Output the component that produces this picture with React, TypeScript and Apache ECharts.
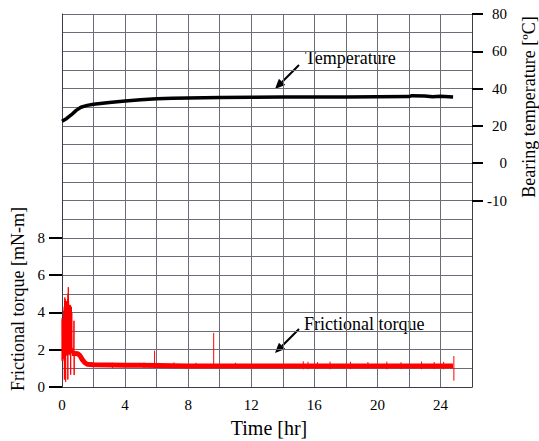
import React, { useEffect, useRef } from "react";
import * as echarts from "echarts";

// ---- Data ----
const timeTicks = [0, 4, 8, 12, 16, 20, 24];
const torqueTicks = [0, 2, 4, 6, 8];
const tempTickValues = [80, 60, 40, 20, 0, -20];
const tempTickLabels = ["80", "60", "40", "20", "0", "-10"];

// Bearing temperature [°C]
const tempTime = [0, 0.3, 0.6, 0.9, 1.2, 1.6, 2, 3, 4, 5, 6, 7, 8, 10, 12, 14, 16, 18, 20, 22, 22.2, 23, 23.5, 24, 24.8];
const tempValue = [22.5, 24, 26, 28.3, 30, 31, 31.6, 32.6, 33.4, 34, 34.6, 34.8, 35, 35.2, 35.4, 35.5, 35.5, 35.5, 35.6, 35.7, 36.2, 36.0, 35.6, 35.9, 35.5];

// Frictional torque start-up burst [mN-m]
const burstTime = [
  0.0, 0.01, 0.02, 0.03, 0.04, 0.05, 0.06, 0.07, 0.08, 0.09, 0.1, 0.11, 0.12, 0.13, 0.14, 0.15, 0.16, 0.17, 0.18, 0.19,
  0.2, 0.21, 0.22, 0.23, 0.24, 0.25, 0.26, 0.27, 0.28, 0.29, 0.3, 0.31, 0.32, 0.33, 0.34, 0.35, 0.36, 0.37, 0.38, 0.39,
  0.4, 0.41, 0.42, 0.43, 0.44, 0.45, 0.46, 0.47, 0.48, 0.49, 0.5, 0.51, 0.52, 0.53, 0.54, 0.55, 0.56, 0.57, 0.58, 0.59,
  0.6, 0.61, 0.62, 0.63, 0.64, 0.66, 0.68, 0.7, 0.72, 0.74, 0.76, 0.77, 0.78, 0.8, 0.83, 0.86, 0.9,
];
const burstTorque = [
  3.7, 1.4, 3.6, 1.5, 3.4, 1.4, 3.3, 1.5, 3.5, 1.5, 3.9, 1.6, 4.1, 1.5, 4.3, 0.4, 4.6, 1.6, 4.8, 1.7,
  4.5, 1.6, 4.7, 0.28, 4.6, 1.7, 4.5, 1.8, 4.6, 1.7, 4.4, 1.8, 4.5, 1.7, 4.6, 1.8, 4.7, 0.4, 5.0, 1.8,
  5.35, 1.8, 4.6, 1.8, 4.4, 1.7, 4.3, 1.9, 4.4, 1.8, 4.3, 1.8, 4.4, 1.9, 4.3, 0.66, 4.3, 1.9, 4.2, 1.8,
  4.3, 1.9, 4.0, 1.9, 2.1, 1.8, 2.0, 1.7, 1.9, 1.8, 3.55, 0.64, 1.9, 1.7, 1.9, 1.7, 1.8,
];

// Frictional torque running level (thick noisy band) [mN-m]
const bandTime = [0.62, 0.8, 1.0, 1.1, 1.2, 1.3, 1.45, 1.6, 1.8, 2, 3, 4, 5, 6, 7, 8, 10, 12, 14, 16, 18, 20, 22, 24, 24.8];
const bandTorque = [1.8, 1.8, 1.78, 1.72, 1.6, 1.45, 1.3, 1.22, 1.2, 1.19, 1.18, 1.17, 1.16, 1.15, 1.14, 1.13, 1.12, 1.12, 1.12, 1.13, 1.13, 1.13, 1.13, 1.13, 1.12];

// Isolated torque spikes [mN-m]
const spikeTime = [3.2, 5.2, 5.87, 7.1, 8.5, 9.62, 11.0, 15.3, 15.6, 16.2, 17.0, 18.3, 19.4, 20.6, 21.5, 22.8, 23.6, 24.2, 24.85];
const spikeLow = [1.0, 1.0, 1.1, 1.0, 1.0, 1.1, 1.0, 0.95, 0.95, 0.97, 0.95, 0.96, 0.97, 0.95, 0.96, 0.95, 0.96, 0.95, 0.34];
const spikeHigh = [1.3, 1.3, 1.95, 1.32, 1.3, 2.9, 1.3, 1.38, 1.35, 1.33, 1.36, 1.35, 1.34, 1.36, 1.33, 1.36, 1.34, 1.35, 1.66];

const FONT = "'Liberation Serif', 'Times New Roman', serif";
const GRID_COLOR = "#6c6c78";
const AXIS_COLOR = "#3c3c46";

function arrow(x0: number, y0: number, x1: number, y1: number) {
  const dx = x1 - x0;
  const dy = y1 - y0;
  const len = Math.sqrt(dx * dx + dy * dy);
  const ux = dx / len;
  const uy = dy / len;
  const hl = 10;
  const hw = 4.5;
  const bx = x1 - ux * hl;
  const by = y1 - uy * hl;
  return [
    { type: "line", shape: { x1: x0, y1: y0, x2: bx, y2: by }, style: { stroke: "#000", lineWidth: 2 } },
    {
      type: "polygon",
      shape: { points: [[x1, y1], [bx - uy * hw, by + ux * hw], [bx + uy * hw, by - ux * hw]] },
      style: { fill: "#000" },
    },
  ];
}

export default function App() {
  const ref = useRef<HTMLDivElement>(null);
  useEffect(() => {
    document.body.style.margin = "0";
    if (!ref.current) return;
    const chart = echarts.init(ref.current, null, { renderer: "svg" });

    const tempData = tempTime.map((t, i) => [t, tempValue[i]]);
    const burstData = burstTime.map((t, i) => [t, burstTorque[i]]);
    const bandData = bandTime.map((t, i) => [t, bandTorque[i]]);
    const spikeData: any[] = [];
    spikeTime.forEach((t, i) => {
      spikeData.push([t, spikeLow[i]], [t, spikeHigh[i]], [t, "-"]);
    });

    chart.setOption({
      animation: false,
      backgroundColor: "#fff",
      textStyle: { fontFamily: FONT },
      grid: { left: 62, right: 67, top: 14, bottom: 54, containLabel: false },
      xAxis: {
        type: "value",
        min: 0,
        max: 26,
        interval: 2,
        axisLine: { show: true, lineStyle: { color: AXIS_COLOR, width: 1 } },
        axisTick: { show: false },
        axisLabel: {
          color: "#000",
          fontSize: 15,
          fontFamily: FONT,
          margin: 10,
          formatter: (v: number) => (timeTicks.indexOf(v) >= 0 ? String(v) : ""),
        },
        splitLine: { show: true, lineStyle: { color: GRID_COLOR, width: 1 } },
      },
      yAxis: [
        {
          // torque axis: grid lines every 1 mN-m
          type: "value",
          position: "left",
          min: 0,
          max: 20,
          interval: 1,
          axisLine: { show: true, lineStyle: { color: AXIS_COLOR, width: 1 } },
          axisTick: { show: false },
          axisLabel: { show: false },
          splitLine: { show: true, lineStyle: { color: GRID_COLOR, width: 1 } },
        },
        {
          // temperature axis
          type: "value",
          position: "right",
          min: -120,
          max: 80,
          interval: 10,
          axisLine: { show: true, lineStyle: { color: AXIS_COLOR, width: 1 } },
          axisTick: {
            show: true,
            customValues: tempTickValues,
            length: 11,
            lineStyle: { color: "#000", width: 2 },
          },
          axisLabel: {
            color: "#000",
            fontSize: 15,
            fontFamily: FONT,
            margin: 35,
            align: "right",
            customValues: tempTickValues,
            formatter: (v: number) => {
              const i = tempTickValues.indexOf(v);
              return i >= 0 ? tempTickLabels[i] : "";
            },
          },
          splitLine: { show: false },
        },
        {
          // torque axis labels / ticks
          type: "value",
          position: "left",
          min: 0,
          max: 20,
          interval: 1,
          axisLine: { show: false },
          axisTick: {
            show: true,
            customValues: torqueTicks,
            length: 13,
            lineStyle: { color: "#000", width: 2 },
          },
          axisLabel: {
            color: "#000",
            fontSize: 15,
            fontFamily: FONT,
            margin: 17,
            customValues: torqueTicks,
          },
          splitLine: { show: false },
        },
      ],
      series: [
        {
          name: "Frictional torque band",
          type: "line",
          yAxisIndex: 0,
          data: bandData,
          showSymbol: false,
          lineStyle: { color: "#ff0000", width: 5 },
          z: 3,
        },
        {
          name: "Frictional torque",
          type: "line",
          yAxisIndex: 0,
          data: burstData,
          showSymbol: false,
          lineStyle: { color: "#ff0000", width: 1 },
          z: 3,
        },
        {
          name: "Frictional torque spikes",
          type: "line",
          yAxisIndex: 0,
          data: spikeData,
          showSymbol: false,
          connectNulls: false,
          lineStyle: { color: "#ff0000", width: 1 },
          z: 3,
        },
        {
          name: "Temperature",
          type: "line",
          yAxisIndex: 1,
          data: tempData,
          showSymbol: false,
          lineStyle: { color: "#000", width: 3.5 },
          z: 4,
        },
      ],
      graphic: [
        {
          type: "text",
          x: 18,
          y: 299,
          rotation: Math.PI / 2,
          style: {
            text: "Frictional torque [mN-m]",
            font: `18px ${FONT}`,
            fill: "#000",
            align: "center",
            verticalAlign: "middle",
          },
        },
        {
          type: "text",
          x: 529,
          y: 107,
          rotation: Math.PI / 2,
          style: {
            text: "Bearing temperature [ºC]",
            font: `18px ${FONT}`,
            fill: "#000",
            align: "center",
            verticalAlign: "middle",
          },
        },
        {
          type: "text",
          x: 269,
          y: 428,
          style: {
            text: "Time [hr]",
            font: `20px ${FONT}`,
            fill: "#000",
            align: "center",
            verticalAlign: "middle",
          },
        },
        {
          type: "text",
          x: 305,
          y: 58,
          style: {
            text: "Temperature",
            font: `18px ${FONT}`,
            fill: "#000",
            align: "left",
            verticalAlign: "middle",
          },
        },
        {
          type: "text",
          x: 304,
          y: 324,
          style: {
            text: "Frictional torque",
            font: `18px ${FONT}`,
            fill: "#000",
            align: "left",
            verticalAlign: "middle",
          },
        },
        ...arrow(299, 65, 275, 89),
        ...arrow(299, 329, 275, 353),
      ],
    });
    return () => chart.dispose();
  }, []);
  return <div ref={ref} style={{ width: 539, height: 441 }} />;
}
